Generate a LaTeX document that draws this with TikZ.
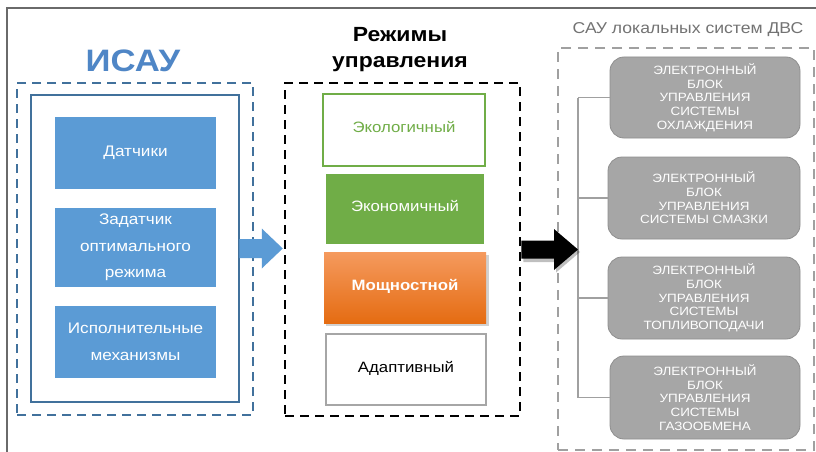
\documentclass[tikz,border=0pt]{standalone}
\usepackage{fontspec}
\setmainfont{Liberation Sans}[FakeStretch=1.12]
\usetikzlibrary{calc,positioning}
\definecolor{isblue}{HTML}{5B9BD5}
\definecolor{isdark}{HTML}{41719C}
\definecolor{titleblue}{HTML}{4F86C6}
\definecolor{ecogreen}{HTML}{70AD47}
\definecolor{orangeT}{HTML}{F59A5E}
\definecolor{orangeB}{HTML}{E56C12}
\definecolor{boxgray}{HTML}{A6A6A6}
\definecolor{boxgrayD}{HTML}{8E8E8E}
\definecolor{linegray}{HTML}{A0A0A0}
\definecolor{framegray}{HTML}{6A6A6A}
\definecolor{adagray}{HTML}{A6A6A6}
\tikzset{
  box/.style={rectangle, inner sep=0pt, align=center},
  bluebox/.style={box, fill=isblue, text=white, font=\fontsize{15.3}{26.5}\selectfont},
  modebox/.style={box, line width=2.5pt, font=\fontsize{15}{18}\selectfont},
  ecubox/.style={box, rounded corners=14pt, fill=boxgray, draw=boxgrayD, line width=0.8pt,
     text=white, font=\fontsize{12}{13.7}\selectfont},
  dashbox/.style={box, line width=2.5pt, dash pattern=on 9pt off 6pt},
  treeline/.style={draw=linegray, line width=1.6pt},
}
\begin{document}
\begin{tikzpicture}[x=1pt,y=-1pt]
\fill[white] (0,0) rectangle (816,452);
\useasboundingbox (0,0) rectangle (816,452);
% frame
\coordinate (ftl) at (7,8);
\coordinate (ftr) at (816,8);
\coordinate (fbl) at (7,452);
\draw[framegray, line width=1.4pt] (fbl) -- (ftl) -- (ftr);

% ===== left group =====
\node[box, font=\fontsize{31}{31}\bfseries, text=titleblue] (tisau) at (133,61) {ИСАУ};
\node[dashbox, draw=isdark, minimum width=236pt, minimum height=332pt] (isau) at (135,249) {};
\node[box, draw=isdark, line width=2.5pt, minimum width=208pt, minimum height=307pt] (inner) at (135,248.5) {};
\node[bluebox, minimum width=161pt, minimum height=72pt] (d1) at (135.5,153) {\raisebox{3pt}{Датчики}};
\node[bluebox, minimum width=161pt, minimum height=79pt] (d2) at (135.5,247.5) {Задатчик\\оптимального\\режима};
\node[bluebox, minimum width=161pt, minimum height=72pt] (d3) at (135.5,342) {Исполнительные\\механизмы};

% ===== middle group =====
\node[box, font=\fontsize{20.5}{26}\bfseries] (tmodes) at (400,50) {Режимы\\управления};
\node[dashbox, draw=black, minimum width=235pt, minimum height=333pt] (modes) at (402.5,249.5) {};
\node[modebox, draw=ecogreen, fill=white, text=ecogreen, minimum width=162pt, minimum height=72pt] (m1) at (404,130) {\raisebox{6pt}{Экологичный}};
\node[box, fill=ecogreen, text=white, font=\fontsize{15}{18}\selectfont, minimum width=158pt, minimum height=70pt] (m2) at (405,209) {\raisebox{6pt}{Экономичный}};
\fill[black, opacity=0.18] (325.5,254.5) rectangle (488.5,325.5);
\node[box, top color=orangeT, bottom color=orangeB, text=white, font=\fontsize{15}{18}\bfseries, minimum width=162pt, minimum height=71pt] (m3) at (405,287.5) {\raisebox{5pt}{Мощностной}};
\node[modebox, draw=adagray, fill=white, text=black, minimum width=160pt, minimum height=71pt] (m4) at (406,369.5) {\raisebox{6pt}{Адаптивный}};

% ===== right group =====
\node[box, text=black!55, font=\fontsize{15.7}{18}\selectfont] (tsau) at (688,30) {САУ локальных систем ДВС};
\node[dashbox, draw=linegray, dash pattern=on 10pt off 7pt, minimum width=256pt, minimum height=402pt] (sau) at (686,249) {};
\node[ecubox, minimum width=190pt, minimum height=81pt] (e1) at (705,97.5) {ЭЛЕКТРОННЫЙ\\БЛОК\\УПРАВЛЕНИЯ\\СИСТЕМЫ\\ОХЛАЖДЕНИЯ};
\node[ecubox, minimum width=192pt, minimum height=82pt] (e2) at (704,198) {ЭЛЕКТРОННЫЙ\\БЛОК\\УПРАВЛЕНИЯ\\СИСТЕМЫ СМАЗКИ};
\node[ecubox, minimum width=192pt, minimum height=82pt] (e3) at (704,298) {ЭЛЕКТРОННЫЙ\\БЛОК\\УПРАВЛЕНИЯ\\СИСТЕМЫ\\ТОПЛИВОПОДАЧИ};
\node[ecubox, minimum width=190pt, minimum height=83pt] (e4) at (705,397.5) {ЭЛЕКТРОННЫЙ\\БЛОК\\УПРАВЛЕНИЯ\\СИСТЕМЫ\\ГАЗООБМЕНА};

% tree
\coordinate (trunk) at (578,249);
\draw[treeline] (e1.west) -- (e1.west -| trunk);
\draw[treeline] (e2.west) -- (e2.west -| trunk);
\draw[treeline] (e3.west) -- (e3.west -| trunk);
\draw[treeline] (e4.west) -- (e4.west -| trunk);
\draw[treeline] (e1.west -| trunk) -- (e4.west -| trunk);

% blue block arrow: inner -> modes
\coordinate (ba) at (inner.east);
\coordinate (bb) at ($(ba -| modes.west)+(-1,0)$);
\fill[isblue] ($(ba)+(-1,-9.5)$) -- ($(bb)+(-21,-9.5)$) -- ($(bb)+(-21,-20)$) -- (bb)
  -- ($(bb)+(-21,20)$) -- ($(bb)+(-21,9.5)$) -- ($(ba)+(-1,9.5)$) -- cycle;

% black block arrow: modes -> trunk
\coordinate (ka) at (modes.east);
\coordinate (kb) at (ka -| trunk);
\fill[black, opacity=0.25] ($(ka)+(2,-6.5)$) -- ($(kb)+(-22,-6.5)$) -- ($(kb)+(-22,-18)$) -- ($(kb)+(2,2.5)$)
  -- ($(kb)+(-22,23)$) -- ($(kb)+(-22,12.5)$) -- ($(ka)+(2,12.5)$) -- cycle;
\fill[black] (ka) ++(0,-9) -- ($(kb)+(-24,-9)$) -- ($(kb)+(-24,-20.5)$) -- (kb)
  -- ($(kb)+(-24,20.5)$) -- ($(kb)+(-24,9)$) -- ($(ka)+(0,9)$) -- cycle;
\end{tikzpicture}
\end{document}
